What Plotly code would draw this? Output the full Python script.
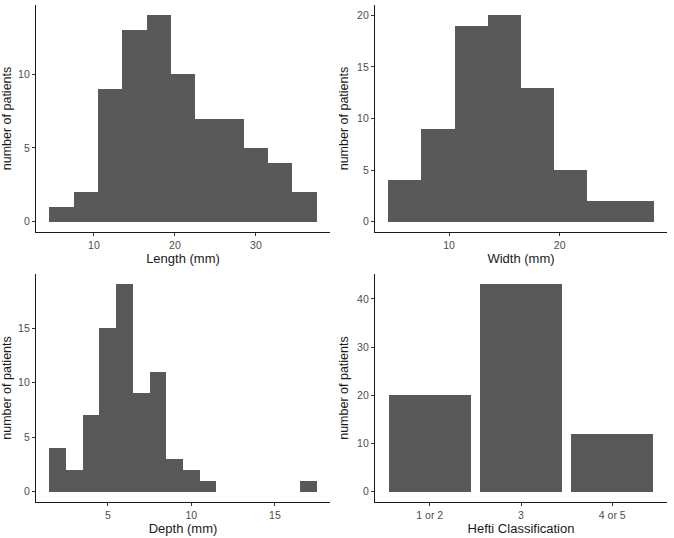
import plotly.graph_objects as go

# ---- data ----
length_bin_centers = [6, 9, 12, 15, 18, 21, 24, 27, 30, 33, 36]
length_counts = [1, 2, 9, 13, 14, 10, 7, 7, 5, 4, 2]
length_binwidth = 3

width_bin_centers = [6, 9, 12, 15, 18, 21, 24, 27]
width_counts = [4, 9, 19, 20, 13, 5, 2, 2]
width_binwidth = 3

depth_bin_centers = [2, 3, 4, 5, 6, 7, 8, 9, 10, 11, 12, 13, 14, 15, 16, 17]
depth_counts = [4, 2, 7, 15, 19, 9, 11, 3, 2, 1, 0, 0, 0, 0, 0, 1]
depth_binwidth = 1

hefti_categories = ["1 or 2", "3", "4 or 5"]
hefti_counts = [20, 43, 12]

length_ticks = [10, 20, 30]
width_ticks = [10, 20]
depth_ticks = [5, 10, 15]
length_yticks = [0, 5, 10]
width_yticks = [0, 5, 10, 15, 20]
depth_yticks = [0, 5, 10, 15]
hefti_yticks = [0, 10, 20, 30, 40]

BAR = "#595959"
FONT = "Liberation Sans, Arial, sans-serif"


def xr(centers, bw):
    lo = min(centers) - bw / 2
    hi = max(centers) + bw / 2
    e = (hi - lo) * 0.05
    return [lo - e, hi + e]


def yr(counts):
    hi = max(counts)
    return [-hi * 0.05, hi * 1.05]


fig = go.Figure()
fig.add_trace(go.Bar(x=length_bin_centers, y=length_counts, width=length_binwidth,
                     marker=dict(color=BAR, line=dict(width=0)), xaxis="x", yaxis="y"))
fig.add_trace(go.Bar(x=width_bin_centers, y=width_counts, width=width_binwidth,
                     marker=dict(color=BAR, line=dict(width=0)), xaxis="x2", yaxis="y2"))
fig.add_trace(go.Bar(x=depth_bin_centers, y=depth_counts, width=depth_binwidth,
                     marker=dict(color=BAR, line=dict(width=0)), xaxis="x3", yaxis="y3"))
fig.add_trace(go.Bar(x=hefti_categories, y=hefti_counts, width=0.9,
                     marker=dict(color=BAR, line=dict(width=0)), xaxis="x4", yaxis="y4"))

left_dom = [36 / 674, 330 / 674]
right_dom = [375 / 674, 667 / 674]
top_dom = [1 - 232 / 538, 1 - 5 / 538]
bot_dom = [1 - 502 / 538, 1 - 274 / 538]

common = dict(showline=True, linecolor="#1a1a1a", linewidth=1.2, ticks="outside",
              ticklen=3, tickcolor="#333333", tickwidth=1, showgrid=False, zeroline=False,
              automargin=False,
              tickfont=dict(family=FONT, size=10.5, color="#4d4d4d"))
xtitle = dict(font=dict(family=FONT, size=13, color="#1a1a1a"), standoff=2)
ytitle = dict(font=dict(family=FONT, size=12.5, color="#1a1a1a"), standoff=5)

fig.update_layout(
    width=674, height=538,
    margin=dict(l=0, r=0, t=0, b=0, autoexpand=False),
    paper_bgcolor="white", plot_bgcolor="white",
    showlegend=False, bargap=0,
    font=dict(family=FONT),
    xaxis=dict(domain=left_dom, anchor="y", range=xr(length_bin_centers, length_binwidth),
               tickvals=length_ticks, title=dict(text="Length (mm)", **xtitle), **common),
    yaxis=dict(domain=top_dom, anchor="x", range=yr(length_counts), tickvals=length_yticks,
               title=dict(text="number of patients", **ytitle), **common),
    xaxis2=dict(domain=right_dom, anchor="y2", range=xr(width_bin_centers, width_binwidth),
                tickvals=width_ticks, title=dict(text="Width (mm)", **xtitle), **common),
    yaxis2=dict(domain=top_dom, anchor="x2", range=yr(width_counts), tickvals=width_yticks,
                title=dict(text="number of patients", **ytitle), **common),
    xaxis3=dict(domain=left_dom, anchor="y3", range=xr(depth_bin_centers, depth_binwidth),
                tickvals=depth_ticks, title=dict(text="Depth (mm)", **xtitle), **common),
    yaxis3=dict(domain=bot_dom, anchor="x3", range=yr(depth_counts), tickvals=depth_yticks,
                title=dict(text="number of patients", **ytitle), **common),
    xaxis4=dict(domain=right_dom, anchor="y4", range=[-0.6, len(hefti_categories) - 0.4],
                type="category", title=dict(text="Hefti Classification", **xtitle), **common),
    yaxis4=dict(domain=bot_dom, anchor="x4", range=yr(hefti_counts), tickvals=hefti_yticks,
                title=dict(text="number of patients", **ytitle), **common),
)

fig.write_html("out.html",
               config={"displayModeBar": False},
               post_script="document.body.style.margin='0px';document.body.style.overflow='hidden';")
